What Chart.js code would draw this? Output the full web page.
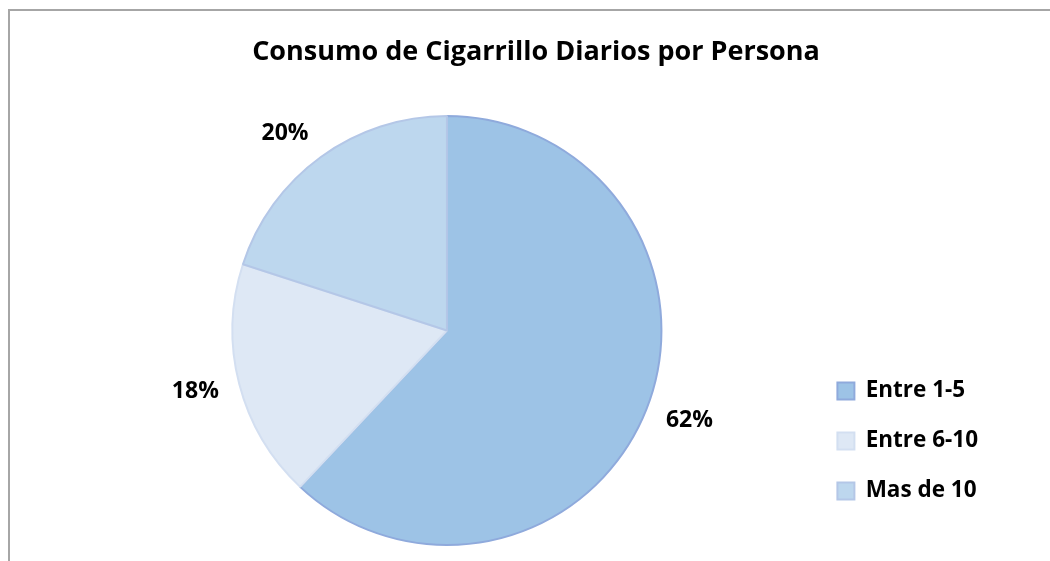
<!DOCTYPE html>
<html>
<head>
<meta charset="utf-8">
<script src="https://cdn.jsdelivr.net/npm/chart.js@4"></script>
<style>
  html, body { margin: 0; padding: 0; overflow: hidden; background: #fff; width: 1050px; height: 561px; }
  #c { position: absolute; left: 0; top: 0; }
  #frame { position: absolute; left: 8px; top: 9px; width: 2000px; height: 2000px;
           border-left: 2px solid #A6A6A6; border-top: 2px solid #A6A6A6; pointer-events: none; }
</style>
</head>
<body>
<canvas id="c" width="1072" height="561"></canvas>
<div id="frame"></div>
<script>
const title = 'Consumo de Cigarrillo Diarios por Persona';
const categories = ['Entre 1-5', 'Entre 6-10', 'Mas de 10'];
const percentages = [62, 18, 20];
const fillColors = ['#9DC3E6', '#DEE8F5', '#BDD7EE'];
const edgeColors = ['#8FAADC', '#D3DFF1', '#B4C7E7'];

const FONT = '"Open Sans", sans-serif';

const labelPlugin = {
  id: 'outsideLabels',
  afterDatasetsDraw(chart) {
    const ctx = chart.ctx;
    const meta = chart.getDatasetMeta(0);
    ctx.save();
    ctx.font = 'bold 23px ' + FONT;
    ctx.fillStyle = '#000';
    ctx.textAlign = 'center';
    ctx.textBaseline = 'middle';
    meta.data.forEach((arc, i) => {
      const p = arc.getProps(['x', 'y', 'startAngle', 'endAngle', 'outerRadius'], true);
      const mid = (p.startAngle + p.endAngle) / 2;
      const ux = Math.cos(mid), uy = Math.sin(mid);
      const txt = chart.data.datasets[0].data[i] + '%';
      const w = ctx.measureText(txt).width, h = 16;
      const r = p.outerRadius + 21;
      const cx = p.x + ux * r + Math.sign(ux) * w / 2;
      const cy = p.y + uy * r + uy * h / 2;
      ctx.fillText(txt, cx, cy);
    });
    ctx.restore();
  }
};

const chart = new Chart(document.getElementById('c'), {
  type: 'pie',
  data: {
    labels: categories,
    datasets: [{
      data: percentages,
      backgroundColor: fillColors,
      borderColor: edgeColors,
      borderWidth: 2
    }]
  },
  options: {
    responsive: false,
    animation: false,
    devicePixelRatio: 1,
    layout: { padding: { left: 84, right: 84, top: 0, bottom: 15 } },
    plugins: {
      legend: {
        display: true,
        position: 'right',
        align: 'center',
        title: { display: true, text: '', font: { size: 12 }, padding: { top: 0, bottom: 321.6 } },
        labels: {
          boxWidth: 17,
          boxHeight: 17,
          padding: 27.5,
          color: '#000',
          font: { family: FONT, size: 22.5, weight: 'bold' }
        }
      },
      tooltip: { enabled: false },
      title: {
        display: true,
        text: title,
        color: '#000',
        font: { family: FONT, size: 27, weight: 'bold' },
        padding: { top: 36, bottom: 46.6 }
      }
    }
  },
  plugins: [labelPlugin]
});
</script>
</body>
</html>
